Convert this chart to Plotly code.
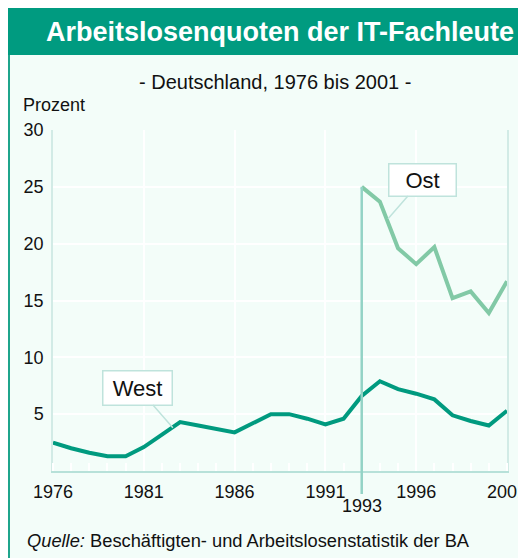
import plotly.graph_objects as go

# ---- data ----
years = list(range(1976, 2002))
west = [2.5, 2.0, 1.6, 1.3, 1.3, 2.1, 3.2, 4.3, 4.0, 3.7, 3.4, 4.2, 5.0, 5.0,
        4.6, 4.1, 4.6, 6.6, 7.9, 7.2, 6.8, 6.3, 4.9, 4.4, 4.0, 5.3]
ost_years = list(range(1993, 2002))
ost = [25.0, 23.7, 19.6, 18.2, 19.7, 15.2, 15.8, 13.9, 16.7]
x_ticks = [1976, 1981, 1986, 1991, 1996, 2001]
y_ticks = [5, 10, 15, 20, 25, 30]
marker_year = 1993

title = "Arbeitslosenquoten der IT-Fachleute"
subtitle = "- Deutschland, 1976 bis 2001 -"
y_unit = "Prozent"
source_html = "<i>Quelle:</i> Beschäftigten- und Arbeitslosenstatistik der BA"

# ---- geometry (page has an 8px body margin; card runs past the right edge) ----
OFF = 8
W, H = 540, 550
ML, MR, MT, MB = 45, 41, 122, 87
PW = W - ML - MR
PH = H - MT - MB


def px_x(px):
    """window pixel x -> paper coordinate"""
    return (px - OFF - ML) / PW


def px_y(py):
    """window pixel y -> paper coordinate"""
    return (H - MB - (py - OFF)) / PH


FONT = "Arial, Liberation Sans, sans-serif"
GREEN = "#009b80"
WEST_C = "#009a7f"
OST_C = "#82c9a6"
BG = "#f3fdf9"
LINE_LIGHT = "#b7e1d9"
TXT = "#111111"

fig = go.Figure()

fig.add_trace(go.Scatter(x=years, y=west, mode="lines",
                         line=dict(color=WEST_C, width=4), hoverinfo="skip",
                         showlegend=False))
fig.add_trace(go.Scatter(x=ost_years, y=ost, mode="lines",
                         line=dict(color=OST_C, width=4), hoverinfo="skip",
                         showlegend=False))

shapes = []
# left border
shapes.append(dict(type="line", xref="paper", yref="paper",
                   x0=px_x(9), x1=px_x(9), y0=px_y(600), y1=px_y(8),
                   line=dict(color="#1fa58c", width=2), layer="below"))
# header bar
shapes.append(dict(type="rect", xref="paper", yref="paper",
                   x0=px_x(0), x1=px_x(600), y0=px_y(55), y1=px_y(-10),
                   fillcolor=GREEN, line=dict(width=0), layer="below"))
# 1993 marker line (data part + part below axis)
shapes.append(dict(type="line", xref="x", yref="y",
                   x0=marker_year, x1=marker_year, y0=0, y1=ost[0],
                   line=dict(color="#93d3c6", width=2.5), layer="above"))
shapes.append(dict(type="line", xref="x", yref="paper",
                   x0=marker_year, x1=marker_year, y0=px_y(494), y1=0,
                   line=dict(color="#93d3c6", width=2.5), layer="above"))

annotations = [
    dict(text="<b>" + title + "</b>", xref="paper", yref="paper",
         x=px_x(280), y=px_y(32), showarrow=False,
         font=dict(family=FONT, size=27, color="white"),
         xanchor="center", yanchor="middle"),
    dict(text=subtitle, xref="paper", yref="paper",
         x=px_x(275), y=px_y(82), showarrow=False,
         font=dict(family=FONT, size=20, color=TXT),
         xanchor="center", yanchor="middle"),
    dict(text=y_unit, xref="paper", yref="paper",
         x=px_x(21), y=px_y(105), showarrow=False,
         font=dict(family=FONT, size=18, color=TXT),
         xanchor="left", yanchor="middle"),
    dict(text=source_html, xref="paper", yref="paper",
         x=px_x(25), y=px_y(540), showarrow=False,
         font=dict(family=FONT, size=18.3, color=TXT),
         xanchor="left", yanchor="middle"),
    dict(text=str(marker_year), xref="x", yref="paper",
         x=marker_year, y=px_y(506), showarrow=False,
         font=dict(family=FONT, size=18, color=TXT),
         xanchor="center", yanchor="middle"),
    dict(text="West", x=1982.6, y=3.8, xref="x", yref="y",
         showarrow=True, arrowhead=0, arrowwidth=1.5, arrowcolor="#bfe3dc",
         ax=-35, ay=-40, bgcolor="white", bordercolor="#bfe3dc",
         borderwidth=1.5, width=66, height=31,
         font=dict(family=FONT, size=22, color=TXT)),
    dict(text="Ost", x=1994.45, y=22.2, xref="x", yref="y",
         showarrow=True, arrowhead=0, arrowwidth=1.5, arrowcolor="#bfe3dc",
         ax=34, ay=-39, bgcolor="white", bordercolor="#bfe3dc",
         borderwidth=1.5, width=64, height=29,
         font=dict(family=FONT, size=22, color=TXT)),
]

fig.update_layout(
    width=W, height=H,
    margin=dict(l=ML, r=MR, t=MT, b=MB, autoexpand=False),
    paper_bgcolor=BG, plot_bgcolor=BG,
    font=dict(family=FONT, size=18, color=TXT),
    shapes=shapes, annotations=annotations,
    showlegend=False,
    xaxis=dict(range=[1976, 2001], tickmode="array", tickvals=x_ticks,
               ticktext=[str(v) for v in x_ticks],
               showgrid=True, gridcolor="white", gridwidth=2,
               showline=True, linecolor=LINE_LIGHT, linewidth=2,
               zeroline=False, ticks="", ticklabelstandoff=3,
               ticklabeloverflow="allow", automargin=False,
               minor=dict(dtick=1, tick0=1976, ticks="inside", ticklen=8,
                          tickcolor="white", tickwidth=2, showgrid=False),
               fixedrange=True),
    yaxis=dict(range=[0, 30], tickmode="array", tickvals=y_ticks,
               showgrid=True, gridcolor="white", gridwidth=2,
               showline=True, linecolor="#d2ebe6", linewidth=1.5, mirror=True,
               zeroline=False, ticks="", ticklabelstandoff=4,
               automargin=False, fixedrange=True),
)

fig.write_html("out.html")
